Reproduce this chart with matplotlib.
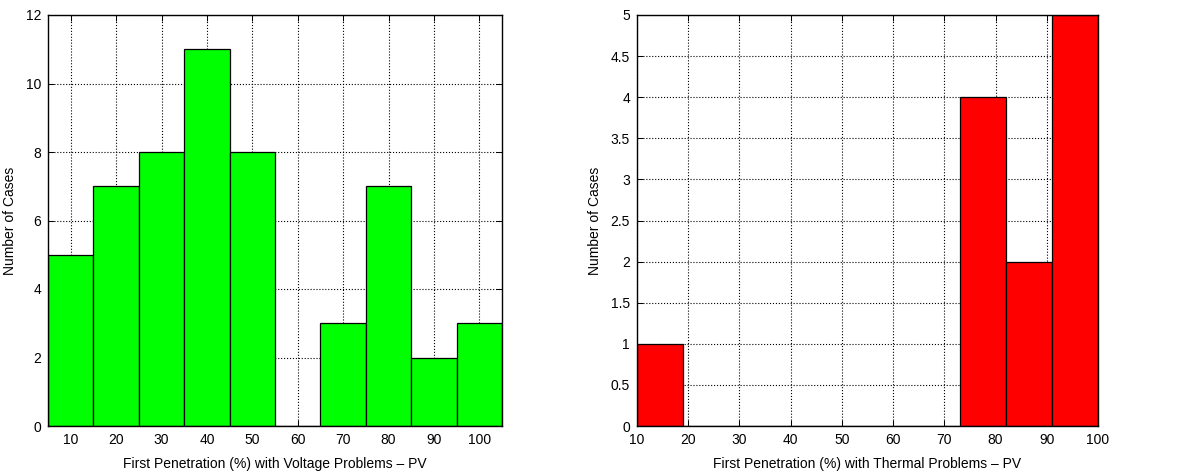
import numpy as np
import matplotlib
matplotlib.use('agg')
import matplotlib.pyplot as plt

plt.rcParams['font.family'] = ['Liberation Sans', 'DejaVu Sans']
plt.rcParams['font.size'] = 10

# voltage problems histogram (left)
volt_centers = [10, 20, 30, 40, 50, 60, 70, 80, 90, 100]
volt_counts  = [5, 7, 8, 11, 8, 0, 3, 7, 2, 3]

# thermal problems histogram (right), 10 bins from 10 to 100
therm_edges  = np.linspace(10, 100, 11)
therm_counts = [1, 0, 0, 0, 0, 0, 0, 4, 2, 5]

fig = plt.figure(figsize=(11.79, 4.76), dpi=100, facecolor='w')
ax1 = fig.add_axes([48/1179, 1-426/476, (502-48)/1179, (426-15)/476])
ax2 = fig.add_axes([637/1179, 1-426/476, (1098-637)/1179, (426-15)/476])

def style(ax):
	ax.set_axisbelow(True)
	ax.grid(True, linestyle=':', color='k', linewidth=0.8)
	ax.tick_params(direction='in', top=True, right=True, length=4, width=0.7, pad=5)
	for s in ax.spines.values():
		s.set_linewidth(1.0)
	ax.set_ylabel('Number of Cases', labelpad=6)

ax1.bar(volt_centers, volt_counts, width=10, color='#00ff00', edgecolor='k', linewidth=0.9)
ax1.set_xlim([5, 105])
ax1.set_ylim([0, 12])
ax1.set_xticks(volt_centers)
ax1.set_yticks(np.arange(0, 13, 2))
ax1.set_xlabel('First Penetration (%) with Voltage Problems \u2013 PV', labelpad=7)
style(ax1)

widths = np.diff(therm_edges)
ax2.bar(therm_edges[:-1], therm_counts, width=widths, align='edge', color='#ff0000', edgecolor='k', linewidth=0.9)
ax2.set_xlim([10, 100])
ax2.set_ylim([0, 5])
ax2.set_xticks(np.arange(10, 101, 10))
ax2.set_yticks(np.arange(0, 5.01, 0.5))
ax2.set_yticklabels(['0', '0.5', '1', '1.5', '2', '2.5', '3', '3.5', '4', '4.5', '5'])
ax2.set_xlabel('First Penetration (%) with Thermal Problems \u2013 PV', labelpad=7)
style(ax2)

plt.savefig('out.png', dpi=100)
plt.close('all')
